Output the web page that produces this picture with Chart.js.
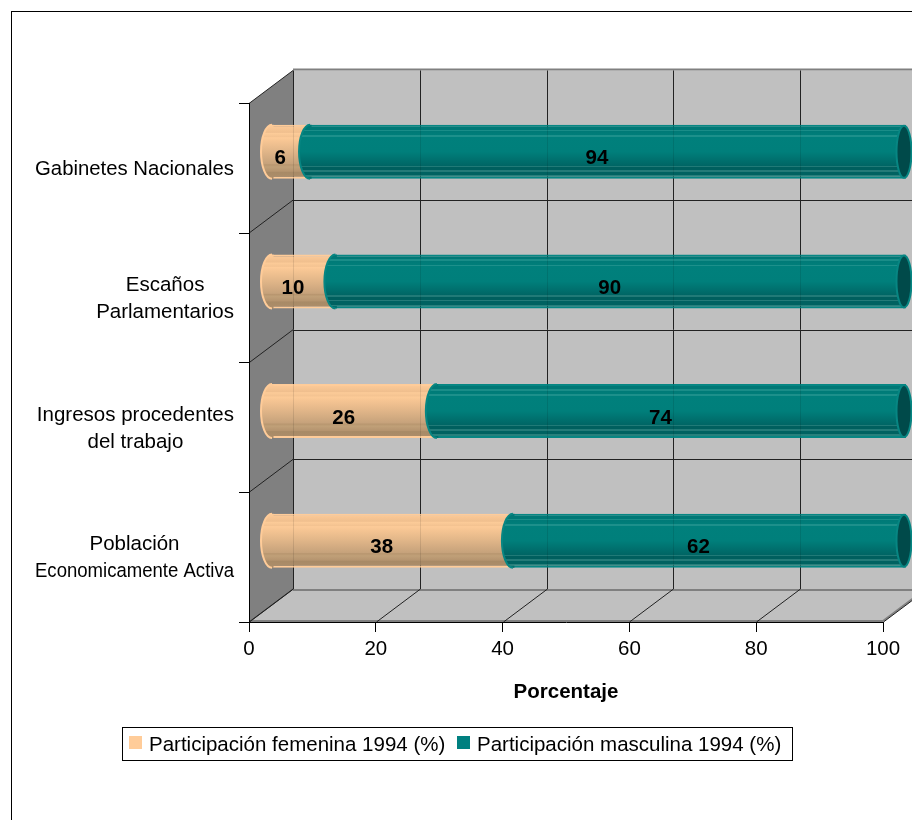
<!DOCTYPE html>
<html>
<head>
<meta charset="utf-8">
<style>
  html, body { margin: 0; padding: 0; background: #fff; overflow: hidden; }
  canvas { display: block; }
</style>
<script src="https://cdn.jsdelivr.net/npm/chart.js@4/dist/chart.umd.js"></script>
</head>
<body>
<canvas id="chart" width="912" height="820"></canvas>
<script>
const categories = [
  ['Gabinetes Nacionales'],
  ['Escaños', 'Parlamentarios'],
  ['Ingresos procedentes', 'del trabajo'],
  ['Población', 'Economicamente Activa'],
];
const femaleValues = [6, 10, 26, 38];
const maleValues = [94, 90, 74, 62];
const femaleLabel = 'Participación femenina 1994 (%)';
const maleLabel = 'Participación masculina 1994 (%)';

const FONT = '"Liberation Sans", Arial, sans-serif';
const FONT_SIZE = 20.5;
const LABEL_MAX_WIDTH = 199;        // the longest category line is squeezed to fit
const DEPTH_X = 44, DEPTH_Y = 33;   // how far the back wall sits behind the front plane
const BAR_DX = 23, BAR_DY = 16.5;   // bars stand halfway between front and back
const CAP_RX = 11;

// banded shading of the cylinders, [offset, colour]
const femaleStops = [
  [0, '#ffcc99'], [0.14, '#f0bf8e'], [0.16, '#fccb98'], [0.22, '#f4c391'], [0.24, '#fdcb98'], [0.3, '#f6c593'],
  [0.5, '#e0b588'], [0.72, '#c6a27b'], [0.74, '#b8966f'], [0.78, '#c0a078'], [0.86, '#b5946f'], [0.88, '#a88a66'], [1, '#ad8e6b'],
];
const maleStops = [
  [0, '#007876'], [0.09, '#007876'], [0.09, '#1a8d88'], [0.12, '#1a8d88'], [0.12, '#007a77'], [0.19, '#007e7a'],
  [0.19, '#1d908b'], [0.22, '#1d908b'], [0.22, '#00807c'], [0.5, '#007f7b'], [0.76, '#006564'],
  [0.76, '#217a77'], [0.78, '#217a77'], [0.78, '#005f5e'], [0.84, '#005f5e'], [0.84, '#237b78'], [0.87, '#237b78'],
  [0.87, '#006261'], [0.93, '#006261'], [0.93, '#27807c'], [0.96, '#27807c'], [0.96, '#006f6d'], [1, '#006f6d'],
];
const TEAL_EDGE = '#078683';

function barGradient(ctx, stops) {
  const { chart, dataIndex } = ctx;
  const y = chart.scales.y;
  if (!y || dataIndex === undefined) return stops[0][1];
  const h = (y.bottom - y.top) / categories.length * 0.417;
  const cy = y.getPixelForValue(dataIndex);
  if (!isFinite(h) || !isFinite(cy)) return stops[0][1];
  const g = chart.ctx.createLinearGradient(0, cy - h / 2, 0, cy + h / 2);
  for (const [o, c] of stops) g.addColorStop(o, c);
  return g;
}

function drawCaps(chart, index) {
  const { ctx } = chart;
  const stops = index === 0 ? femaleStops : maleStops;
  const edge = index === 0 ? '#ffcc99' : TEAL_EDGE;
  const sx = chart.scales.x;
  chart.getDatasetMeta(index).data.forEach((el, i) => {
    const start = index === 0 ? sx.getPixelForValue(0) : sx.getPixelForValue(femaleValues[i]);
    const ry = el.height / 2;
    // rounded left end of the cylinder, overlapping the bar a little to hide the seam
    ctx.beginPath();
    ctx.ellipse(start, el.y, CAP_RX, ry, 0, Math.PI / 2, Math.PI * 1.5);
    ctx.lineTo(start + 1.5, el.y - ry);
    ctx.lineTo(start + 1.5, el.y + ry);
    ctx.closePath();
    ctx.fillStyle = barGradient({ chart, dataIndex: i }, stops);
    ctx.fill();
    ctx.beginPath();
    ctx.ellipse(start, el.y, CAP_RX, ry, 0, Math.PI / 2, Math.PI * 1.5);
    ctx.strokeStyle = edge;
    ctx.lineWidth = 2;
    ctx.stroke();
    if (index === 1) {
      // open right end
      ctx.beginPath();
      ctx.ellipse(el.x - 2, el.y, CAP_RX - 3.5, ry - 1, 0, 0, Math.PI * 2);
      ctx.fillStyle = '#004a4a';
      ctx.fill();
      ctx.strokeStyle = edge;
      ctx.stroke();
    }
  });
}

const scene3d = {
  id: 'scene3d',
  beforeDraw(chart) {
    const { ctx } = chart;
    const { x, y } = chart.scales;
    const l = x.left, r = x.right, t = y.top, b = y.bottom;
    ctx.save();
    ctx.fillStyle = '#fff';
    ctx.fillRect(0, 0, chart.width, chart.height);
    // outer chart frame, runs off the picture on the right and bottom
    ctx.strokeStyle = '#000';
    ctx.lineWidth = 1;
    ctx.strokeRect(11.5, 11.5, chart.width, chart.height);
    // back wall
    ctx.fillStyle = '#c0c0c0';
    ctx.fillRect(l + DEPTH_X, t - DEPTH_Y, r - l, b - t);
    // floor
    ctx.beginPath();
    ctx.moveTo(l, b); ctx.lineTo(r, b); ctx.lineTo(r + DEPTH_X, b - DEPTH_Y); ctx.lineTo(l + DEPTH_X, b - DEPTH_Y);
    ctx.closePath();
    ctx.fill();
    // left wall
    ctx.fillStyle = '#808080';
    ctx.beginPath();
    ctx.moveTo(l, t); ctx.lineTo(l + DEPTH_X, t - DEPTH_Y); ctx.lineTo(l + DEPTH_X, b - DEPTH_Y); ctx.lineTo(l, b);
    ctx.closePath();
    ctx.fill();
    // grey edges of the box
    ctx.strokeStyle = '#808080';
    ctx.lineWidth = 2;
    ctx.beginPath();
    ctx.moveTo(l + DEPTH_X, t - DEPTH_Y - 1); ctx.lineTo(r + DEPTH_X, t - DEPTH_Y - 1);
    ctx.moveTo(l + DEPTH_X, b - DEPTH_Y + 1); ctx.lineTo(r + DEPTH_X, b - DEPTH_Y + 1);
    ctx.moveTo(l, b - 1); ctx.lineTo(r, b - 1);
    ctx.moveTo(r, b - 1); ctx.lineTo(r + DEPTH_X, b - DEPTH_Y - 1);
    ctx.stroke();
    // grid, value lines
    ctx.lineWidth = 1;
    ctx.strokeStyle = '#222';
    ctx.beginPath();
    for (const tick of x.ticks) {
      const px = Math.round(x.getPixelForValue(tick.value)) + 0.5;
      ctx.moveTo(px + DEPTH_X, t - DEPTH_Y);
      ctx.lineTo(px + DEPTH_X, b - DEPTH_Y);
      ctx.moveTo(px, b);
      ctx.lineTo(px + DEPTH_X, b - DEPTH_Y);
    }
    // grid, category lines
    for (let i = 0; i <= categories.length; i++) {
      const py = t + (b - t) * i / categories.length;
      ctx.moveTo(l, py);
      ctx.lineTo(l + DEPTH_X, py - DEPTH_Y);
      if (i > 0 && i < categories.length) {
        const by = Math.round(py - DEPTH_Y) + 0.5;
        ctx.moveTo(l + DEPTH_X, by);
        ctx.lineTo(r + DEPTH_X, by);
      }
    }
    ctx.stroke();
    ctx.restore();
  },
  afterDraw(chart) {
    const { ctx } = chart;
    const { y } = chart.scales;
    ctx.save();
    // y labels: each block right aligned, its lines centred on each other
    ctx.fillStyle = '#000';
    ctx.font = FONT_SIZE + 'px ' + FONT;
    ctx.textBaseline = 'middle';
    ctx.textAlign = 'center';
    const lineH = 27;
    categories.forEach((lines, i) => {
      const cy = y.getPixelForValue(i);
      const w = Math.min(LABEL_MAX_WIDTH, Math.max(...lines.map(s => ctx.measureText(s).width)));
      const cx = 234 - w / 2;
      lines.forEach((s, k) => {
        ctx.fillText(s, cx, cy + (k - (lines.length - 1) / 2) * lineH + 1, LABEL_MAX_WIDTH);
      });
    });
    // legend
    ctx.strokeStyle = '#000';
    ctx.lineWidth = 1;
    ctx.fillStyle = '#fff';
    ctx.fillRect(122.5, 727.5, 670, 33);
    ctx.strokeRect(122.5, 727.5, 670, 33);
    ctx.textAlign = 'left';
    ctx.fillStyle = '#ffcc99';
    ctx.fillRect(129, 736, 13, 13);
    ctx.fillStyle = '#008080';
    ctx.fillRect(457, 736, 13, 13);
    ctx.fillStyle = '#000';
    ctx.fillText(chart.data.datasets[0].label, 149, 745);
    ctx.fillText(chart.data.datasets[1].label, 477, 745);
    ctx.restore();
  },
  beforeDatasetsDraw(chart) {
    chart.ctx.save();
    chart.ctx.translate(BAR_DX, -BAR_DY);
  },
  afterDatasetsDraw(chart) {
    const { ctx } = chart;
    drawCaps(chart, 0);
    drawCaps(chart, 1);
    // back wall lines show faintly through the bars
    const sx = chart.scales.x;
    ctx.strokeStyle = 'rgba(0,0,0,0.1)';
    ctx.lineWidth = 1;
    ctx.beginPath();
    chart.getDatasetMeta(1).data.forEach(el => {
      for (const tick of sx.ticks) {
        if (tick.value === sx.max) continue;
        const px = Math.round(sx.getPixelForValue(tick.value)) + 0.5 + DEPTH_X - BAR_DX;
        ctx.moveTo(px, el.y - el.height / 2);
        ctx.lineTo(px, el.y + el.height / 2);
      }
    });
    ctx.stroke();
    ctx.fillStyle = '#000';
    ctx.font = 'bold ' + FONT_SIZE + 'px ' + FONT;
    ctx.textAlign = 'center';
    ctx.textBaseline = 'middle';
    chart.data.datasets.forEach((ds, d) => {
      chart.getDatasetMeta(d).data.forEach((el, i) => {
        ctx.fillText(String(ds.data[i]), (el.x + el.base) / 2 - 11, el.y + 7);
      });
    });
    ctx.restore();
  },
};

new Chart(document.getElementById('chart'), {
  type: 'bar',
  data: {
    labels: categories,
    datasets: [
      {
        label: femaleLabel,
        data: femaleValues,
        backgroundColor: ctx => barGradient(ctx, femaleStops),
        borderColor: '#ffcc99',
      },
      {
        label: maleLabel,
        data: maleValues,
        backgroundColor: ctx => barGradient(ctx, maleStops),
        borderColor: TEAL_EDGE,
      },
    ],
  },
  plugins: [scene3d],
  options: {
    indexAxis: 'y',
    responsive: false,
    animation: false,
    clip: false,
    layout: { padding: { top: 103.5, right: 29, left: 0, bottom: 0 } },
    datasets: {
      bar: {
        barPercentage: 1,
        categoryPercentage: 0.417,
        borderWidth: { top: 2, bottom: 2, left: 0, right: 0 },
        borderSkipped: false,
      },
    },
    plugins: { legend: { display: false }, tooltip: { enabled: false } },
    scales: {
      x: {
        stacked: true,
        min: 0,
        max: 100,
        afterFit: s => { s.height = 198; },
        ticks: { stepSize: 20, maxRotation: 0, padding: 5, color: '#000', font: { family: FONT, size: FONT_SIZE } },
        grid: { drawOnChartArea: false, tickLength: 10, color: '#000', tickColor: '#000' },
        border: { color: '#000' },
        title: {
          display: true,
          text: 'Porcentaje',
          color: '#000',
          font: { family: FONT, size: FONT_SIZE, weight: 'bold' },
          padding: { top: 0, bottom: 115 },
        },
      },
      y: {
        stacked: true,
        afterFit: s => { s.width = 249; },
        ticks: { display: false },
        grid: { drawOnChartArea: false, tickLength: 10, color: '#000', tickColor: '#000' },
        border: { color: '#000' },
      },
    },
  },
});
</script>
</body>
</html>
